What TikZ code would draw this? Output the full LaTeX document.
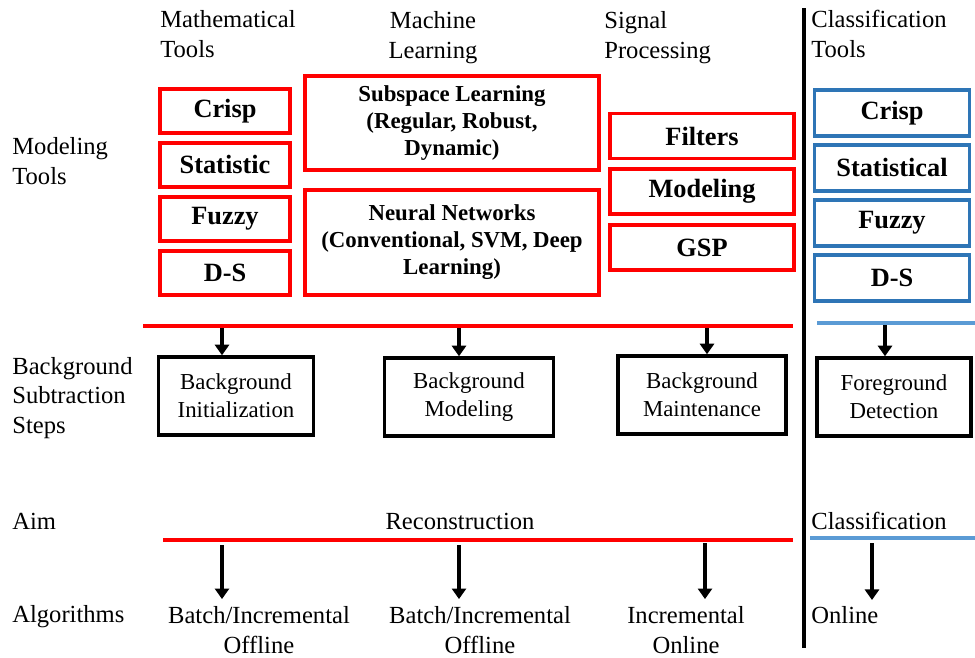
\documentclass[tikz,border=0pt]{standalone}
\usepackage{fontspec}
\setmainfont{Liberation Serif}
\usetikzlibrary{positioning}
\usetikzlibrary{arrows.meta}
\definecolor{clsblue}{HTML}{2E75B6}
\definecolor{clsline}{HTML}{5B9BD5}

\begin{document}
\begin{tikzpicture} [
    x = 0.02cm, y = -0.02cm,
    rowlbl/.style = {font=\fontsize{14}{17}\selectfont, align=left, anchor=west, inner sep=0pt},
    tool/.style = {draw=red, line width=2.2pt, font=\bfseries\fontsize{15}{18}\selectfont, inner sep=0pt},
    mathtool/.style = {tool, minimum width=2.6cm, minimum height=0.88cm},
    sigtool/.style = {tool, minimum width=3.68cm, minimum height=0.9cm},
    mltool/.style = {tool, font=\bfseries\fontsize{13}{15.5}\selectfont, align=center, minimum width=5.88cm},
    clstool/.style = {tool, draw=clsblue, minimum width=3.1cm, minimum height=0.92cm},
    stepbox/.style = {draw, line width=2pt, font=\fontsize{13}{16}\selectfont, align=center, minimum height=1.56cm},
    redbar/.style = {red, line width=2.2pt},
    bluebar/.style = {clsline, line width=2.2pt},
    arr/.style = {-{Triangle[width=8pt,length=6pt]}, line width=2.1pt}
    ]
    \useasboundingbox (0,0) rectangle (975,657);

    \node[rowlbl] (mathhead) at (160,34) {Mathematical\\Tools};
    \node[rowlbl, anchor=center, align=center] (mlhead) at (433,38) {Machine\\Learning};
    \node[rowlbl] (sighead) at (604,38) {Signal\\Processing};
    \node[rowlbl] (clshead) at (811,34) {Classification\\Tools};

    \node[rowlbl] (modlbl) at (12,161) {Modeling\\Tools};
    \node[rowlbl] (steplbl) at (12,398) {Background\\Subtraction\\Steps};
    \node[rowlbl] (aimlbl) at (12,521) {Aim};
    \node[rowlbl] (alglbl) at (12,617) {Algorithms};

    \node[mathtool] (crisp) at (225,111) {Crisp};
    \node[mathtool, below=0.12cm of crisp] (statistic) {Statistic};
    \node[mathtool, below=0.12cm of statistic] (fuzzy) {Fuzzy};
    \node[mathtool, below=0.12cm of fuzzy] (ds) {D-S};

    \node[mltool, minimum height=1.88cm] (subspace) at (452,123) {Subspace Learning\\(Regular, Robust,\\Dynamic)};
    \node[mltool, minimum height=2.1cm, below=0.32cm of subspace] (neural) {Neural Networks\\(Conventional, SVM, Deep\\Learning)};

    \node[sigtool] (filters) at (702,136) {Filters};
    \node[sigtool, below=0.13cm of filters] (sigmodel) {Modeling};
    \node[sigtool, below=0.15cm of sigmodel] (gsp) {GSP};

    \node[clstool] (clscrisp) at (892,113) {Crisp};
    \node[clstool, below=0.1cm of clscrisp] (clsstat) {Statistical};
    \node[clstool, below=0.1cm of clsstat] (clsfuzzy) {Fuzzy};
    \node[clstool, below=0.1cm of clsfuzzy] (clsds) {D-S};

    \draw[line width=2.1pt] (804,8) -- (804,648);

    \draw[redbar] (143,326) -- (793,326);
    \draw[bluebar] (817,323) -- (975,323);

    \node[stepbox, minimum width=3.1cm] (init) at (236,396) {Background\\Initialization};
    \node[stepbox, minimum width=3.38cm] (bgmodel) at (469,397) {Background\\Modeling};
    \node[stepbox, minimum width=3.36cm] (maint) at (702,395) {Background\\Maintenance};
    \node[stepbox, minimum width=3.08cm] (fgdet) at (894,397) {Foreground\\Detection};

    \coordinate (s1) at (222,328);
    \coordinate (s2) at (459,328);
    \coordinate (s3) at (707,328);
    \coordinate (s4) at (885,325);
    \draw[arr] (s1) -- (s1 |- init.north);
    \draw[arr] (s2) -- (s2 |- bgmodel.north);
    \draw[arr] (s3) -- (s3 |- maint.north);
    \draw[arr] (s4) -- (s4 |- fgdet.north);

    \node[rowlbl, anchor=center] (recon) at (460,521) {Reconstruction};
    \node[rowlbl] (classif) at (811,521) {Classification};

    \draw[redbar] (163,540) -- (793,540);
    \draw[bluebar] (810,538) -- (975,538);

    \node[rowlbl, anchor=center, align=center] (alg1) at (259,630) {Batch/Incremental\\Offline};
    \node[rowlbl, anchor=center, align=center] (alg2) at (480,630) {Batch/Incremental\\Offline};
    \node[rowlbl, anchor=center, align=center] (alg3) at (686,630) {Incremental\\Online};
    \node[rowlbl] (alg4) at (811,615) {Online};

    \coordinate (t1) at (222,545);
    \coordinate (t2) at (459,545);
    \coordinate (t3) at (705,543);
    \coordinate (t4) at (872,543);
    \draw[arr, shorten >=0.14cm] (t1) -- (t1 |- alg1.north);
    \draw[arr, shorten >=0.14cm] (t2) -- (t2 |- alg2.north);
    \draw[arr, shorten >=0.14cm] (t3) -- (t3 |- alg3.north);
    \draw[arr] (t4) -- (872,600);
\end{tikzpicture}
\end{document}
